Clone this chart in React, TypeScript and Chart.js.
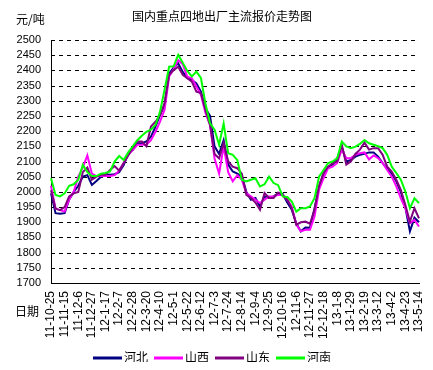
import React, { useEffect, useRef } from 'react';
import { Chart, registerables } from 'chart.js';

Chart.register(...registerables);

const chartTitle = '国内重点四地出厂主流报价走势图';
const yUnit = '元/吨';
const xName = '日期';
const seriesNames = ['河北', '山西', '山东', '河南'];
const seriesColors = ['#000080', '#FF00FF', '#800080', '#00FF00'];

const tickLabels = [
  '11-10-25', '11-11-15', '11-12-6', '11-12-27', '12-1-17', '12-2-7', '12-2-28',
  '12-3-20', '12-4-10', '12-5-1', '12-5-22', '12-6-12', '12-7-3', '12-7-24',
  '12-8-14', '12-9-4', '12-9-25', '12-10-16', '12-11-6', '12-11-27', '12-12-18',
  '13-1-8', '13-1-29', '13-2-19', '13-3-12', '13-4-2', '13-4-23', '13-5-14',
];

// weekly readings (three per labelled interval)
const hebei = [
  1995, 1930, 1928, 1930, 1975, 2000, 2020, 2050, 2055, 2023,
  2036, 2050, 2056, 2056, 2058, 2065, 2088, 2127, 2138, 2160,
  2160, 2166, 2182, 2215, 2253, 2286, 2390, 2409, 2423, 2395,
  2374, 2369, 2357, 2330, 2275, 2250, 2150, 2125, 2170, 2090,
  2067, 2060, 2050, 2000, 1974, 1980, 1952, 1985, 1980, 1985,
  1995, 1993, 1965, 1941, 1895, 1870, 1883, 1882, 1945, 2015,
  2062, 2082, 2090, 2110, 2150, 2100, 2105, 2116, 2122, 2125,
  2130, 2130, 2116, 2095, 2075, 2060, 2035, 2000, 1948, 1870,
  1915, 1900,
];
const shanxi = [
  2020, 1945, 1940, 1935, 1975, 2000, 2050, 2080, 2120, 2060,
  2052, 2052, 2052, 2052, 2055, 2070, 2095, 2122, 2138, 2155,
  2155, 2155, 2170, 2198, 2231, 2270, 2380, 2404, 2434, 2420,
  2379, 2374, 2347, 2320, 2260, 2220, 2110, 2060, 2150, 2065,
  2035, 2055, 2040, 1995, 1985, 1974, 1963, 1974, 1985, 1985,
  1990, 1990, 1974, 1952, 1892, 1870, 1875, 1875, 1919, 2007,
  2045, 2078, 2083, 2095, 2139, 2111, 2111, 2122, 2127, 2130,
  2107, 2120, 2111, 2095, 2072, 2050, 2018, 1979, 1946, 1897,
  1908, 1886,
];
const shandong = [
  2005, 1945, 1940, 1950, 1985, 1995, 2000, 2065, 2080, 2040,
  2050, 2056, 2056, 2072, 2085, 2070, 2095, 2120, 2145, 2166,
  2166, 2150, 2215, 2231, 2253, 2292, 2385, 2401, 2412, 2385,
  2374, 2363, 2330, 2325, 2270, 2220, 2125, 2110, 2160, 2100,
  2083, 2078, 2060, 1990, 1980, 1965, 1941, 1996, 1980, 1980,
  1998, 1988, 1975, 1946, 1892, 1900, 1902, 1895, 1941, 2020,
  2062, 2083, 2095, 2100, 2155, 2090, 2100, 2125, 2139, 2162,
  2139, 2144, 2144, 2122, 2083, 2067, 2040, 2007, 1957, 1902,
  1946, 1913,
];
const henan = [
  2045, 1990, 1985, 1995, 2020, 2025, 2040, 2089, 2065, 2052,
  2052, 2060, 2062, 2067, 2100, 2118, 2105, 2130, 2150, 2170,
  2185, 2198, 2205, 2220, 2264, 2336, 2412, 2414, 2451, 2425,
  2398, 2380, 2396, 2375, 2290, 2226, 2205, 2155, 2225, 2127,
  2122, 2105, 2040, 2034, 2040, 2045, 2018, 2025, 2050, 2029,
  2022, 1985, 1983, 1968, 1935, 1946, 1946, 1952, 1979, 2050,
  2072, 2095, 2100, 2111, 2166, 2150, 2144, 2149, 2158, 2171,
  2160, 2155, 2150, 2144, 2122, 2083, 2062, 2040, 2001, 1946,
  1979, 1963,
];

const seriesValues = [hebei, shanxi, shandong, henan];

const categories: string[] = [];
tickLabels.forEach((t, i) => {
  categories.push(t);
  if (i < tickLabels.length - 1) categories.push('', '');
});

const CJK = '"Noto Sans CJK SC", sans-serif';
const LATIN = '"Liberation Sans", Arial, sans-serif';

const gridPlugin = {
  id: 'dashGrid',
  beforeDatasetsDraw(chart: any) {
    const ctx = chart.ctx as CanvasRenderingContext2D;
    const area = chart.chartArea;
    const yScale = chart.scales.y;
    ctx.save();
    ctx.strokeStyle = '#000';
    ctx.lineWidth = 1;
    ctx.setLineDash([4, 4]);
    yScale.ticks.forEach((t: any) => {
      const py = Math.round(yScale.getPixelForValue(t.value)) + 0.5;
      ctx.beginPath();
      ctx.moveTo(area.left, py);
      ctx.lineTo(area.right, py);
      ctx.stroke();
    });
    ctx.restore();
  },
};

const decorPlugin = {
  id: 'decor',
  afterDraw(chart: any) {
    const ctx = chart.ctx as CanvasRenderingContext2D;
    ctx.save();
    ctx.fillStyle = '#000';
    ctx.font = `12px ${CJK}`;
    ctx.textBaseline = 'middle';
    ctx.textAlign = 'center';
    ctx.fillText(chartTitle, 214, 8);
    ctx.textAlign = 'left';
    ctx.fillText(yUnit, 8, 11);
    ctx.fillText(xName, 7, 303);
    // legend
    const lineLen = 29;
    const y = 350;
    let x = 85;
    seriesNames.forEach((name, i) => {
      ctx.strokeStyle = seriesColors[i];
      ctx.lineWidth = 3;
      ctx.beginPath();
      ctx.moveTo(x, y);
      ctx.lineTo(x + lineLen, y);
      ctx.stroke();
      ctx.fillStyle = '#000';
      ctx.fillText(name, x + lineLen + 2, y - 1);
      x += lineLen + 2 + ctx.measureText(name).width + 6;
    });
    ctx.restore();
  },
};

export default function App() {
  const ref = useRef<HTMLCanvasElement | null>(null);
  useEffect(() => {
    if (!ref.current) return;
    const chart = new Chart(ref.current, {
      type: 'line',
      data: {
        labels: categories,
        datasets: seriesValues.map((vals, i) => ({
          label: seriesNames[i],
          data: vals,
          borderColor: seriesColors[i],
          backgroundColor: seriesColors[i],
          borderWidth: 2,
          pointRadius: 0,
          tension: 0,
          fill: false,
          order: seriesValues.length - i,
        })),
      },
      options: {
        animation: false,
        responsive: true,
        maintainAspectRatio: false,
        layout: { padding: { top: 32, right: 6, left: 0, bottom: 0 } },
        plugins: {
          legend: { display: false },
          title: { display: false },
          tooltip: { enabled: false },
        },
        scales: {
          x: {
            type: 'category',
            offset: false,
            grid: { display: false, drawTicks: false },
            border: { display: true, color: '#000', width: 1 },
            ticks: {
              autoSkip: false,
              minRotation: 90,
              maxRotation: 90,
              padding: 8,
              color: '#000',
              font: { family: LATIN, size: 12 },
            },
            afterFit: (scale: any) => {
              scale.height = 79;
              scale.paddingLeft = 0;
              scale.paddingRight = 0;
            },
          },
          y: {
            min: 1700,
            max: 2500,
            ticks: {
              stepSize: 50,
              autoSkip: false,
              padding: 10,
              color: '#000',
              font: { family: LATIN, size: 11 },
              callback: (v: any) => String(v),
            },
            grid: { display: false, drawTicks: false },
            border: { display: true, color: '#000', width: 1 },
            afterFit: (scale: any) => {
              scale.width = 43;
            },
          },
        },
      },
      plugins: [gridPlugin, decorPlugin],
    });
    return () => chart.destroy();
  }, []);
  return (
    <div style={{ width: 417, height: 354, position: 'relative' }}>
      <canvas ref={ref} />
    </div>
  );
}
